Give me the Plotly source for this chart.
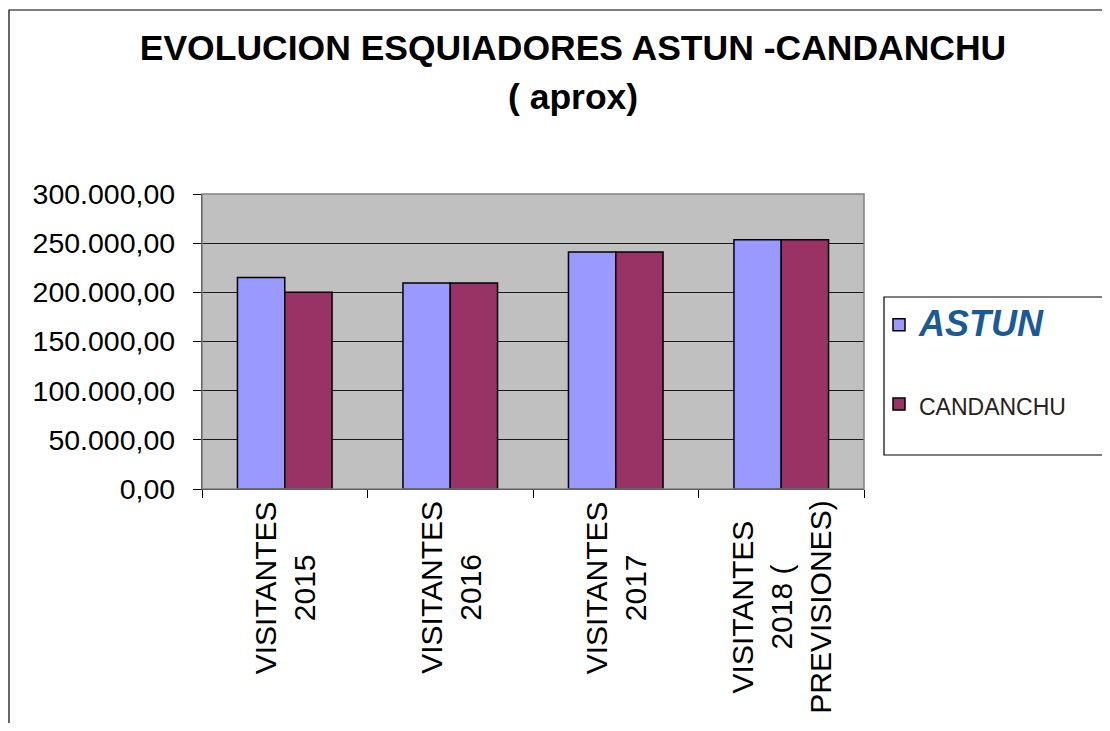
import plotly.graph_objects as go

categories = ["VISITANTES<br>2015", "VISITANTES<br>2016", "VISITANTES<br>2017",
              "VISITANTES<br>2018 (<br>PREVISIONES)"]
astun = [215000, 209500, 241000, 253500]
candanchu = [200000, 209500, 241000, 253500]
series_names = ["ASTUN", "CANDANCHU"]
title_line1 = "EVOLUCION ESQUIADORES ASTUN -CANDANCHU"
title_line2 = "( aprox)"

FONT = "Liberation Sans, Arial, sans-serif"
OFF = 8  # default page body margin
W, H = 1110 - 2 * OFF, 731 - 2 * OFF
L, T = 202 - OFF, 194 - OFF
pw, ph = 662, 295
R, B = W - L - pw, H - T - ph


def px(x):
    """page x pixel -> paper x"""
    return (x - OFF - L) / pw


def py(y):
    """page y pixel -> paper y"""
    return (T + ph - (y - OFF)) / ph


fig = go.Figure()
fig.add_trace(go.Bar(
    x=categories, y=astun,
    name='<span style="font-size:36px;color:#1B5A96"><b><i>' + series_names[0] + '</i></b></span>',
    marker=dict(color="#9999FF", line=dict(color="#000000", width=1.5)),
    legendgroup="a",
))
fig.add_trace(go.Bar(
    x=categories, y=candanchu,
    name='<span style="font-size:23px;color:#2A2020">' + series_names[1] + '</span>',
    marker=dict(color="#993366", line=dict(color="#000000", width=1.5)),
    legendgroup="b",
))

annotations = []
for c in categories:
    annotations.append(dict(
        x=c, xref="x", y=0, yref="paper", yshift=-10,
        text=c, showarrow=False, textangle=-90,
        xanchor="center", yanchor="top", align="center",
        font=dict(family=FONT, size=30, color="#000000"),
    ))
annotations.append(dict(
    x=px(573), xref="paper", y=py(97), yref="paper",
    text="<b>" + title_line2 + "</b>", showarrow=False,
    xanchor="center", yanchor="middle",
    font=dict(family=FONT, size=35.5, color="#000000"),
))

shapes = [
    # outer chart frame
    dict(type="rect", xref="paper", yref="paper",
         x0=px(9), x1=px(1130), y0=py(760), y1=py(10),
         line=dict(color="#000000", width=1.2), fillcolor="rgba(0,0,0,0)", layer="below"),
    # legend frame
    dict(type="rect", xref="paper", yref="paper",
         x0=px(884), x1=px(1130), y0=py(455), y1=py(297),
         line=dict(color="#000000", width=1.2), fillcolor="#FFFFFF", layer="below"),
    # plot area border
    dict(type="rect", xref="paper", yref="paper", x0=0, x1=1, y0=0, y1=1,
         line=dict(color="#808080", width=1.5), fillcolor="rgba(0,0,0,0)", layer="above"),
]

fig.update_layout(
    width=W, height=H,
    margin=dict(l=L, r=R, t=T, b=B, pad=0),
    paper_bgcolor="#FFFFFF",
    plot_bgcolor="#C0C0C0",
    separators=",.",
    barmode="group",
    bargap=1.5 / 3.5,
    bargroupgap=0,
    title=dict(
        text="<b>" + title_line1 + "</b>",
        x=(573 - OFF) / W, xref="container", xanchor="center",
        y=1 - (48 - OFF) / H, yref="container", yanchor="middle",
        font=dict(family=FONT, size=35.5, color="#000000"),
    ),
    legend=dict(
        x=px(879), y=py(300), xanchor="left", yanchor="top",
        borderwidth=0, bgcolor="rgba(0,0,0,0)",
        font=dict(family=FONT, size=28, color="#000000"),
        traceorder="grouped", tracegroupgap=40,
        itemwidth=30,
    ),
    annotations=annotations,
    shapes=shapes,
    xaxis=dict(
        type="category", showticklabels=False,
        tickson="boundaries", ticks="outside", ticklen=8, tickcolor="#000000",
        showline=True, linecolor="#000000", linewidth=1.2,
        showgrid=False, zeroline=False,
    ),
    yaxis=dict(
        range=[0, 300000], dtick=50000, tickformat=",.2f",
        ticks="outside", ticklen=8, tickcolor="#000000",
        ticklabelstandoff=12,
        showline=True, linecolor="#000000", linewidth=1.2,
        showgrid=True, gridcolor="#1A1A1A", gridwidth=1,
        zeroline=False,
        tickfont=dict(family=FONT, size=28.5, color="#000000"),
    ),
    showlegend=True,
)

fig.write_html("out.html")
